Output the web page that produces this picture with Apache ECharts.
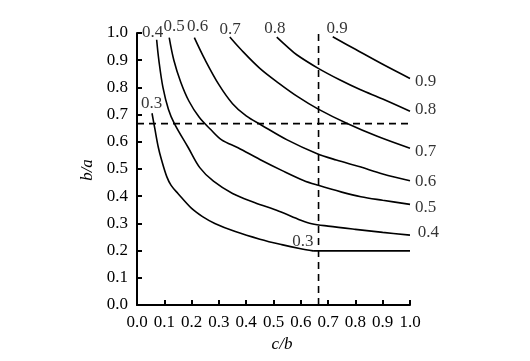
<!DOCTYPE html>
<html><head><meta charset="utf-8">
<script src="https://cdn.jsdelivr.net/npm/echarts@6/dist/echarts.min.js"></script>
<style>html,body{margin:0;padding:0;background:#fff}#c{width:530px;height:361px}</style>
</head><body><div id="c"></div>
<script>
// Contour curves: [c/b, b/a]
const curve03 = [[0.055,0.705],[0.065,0.65],[0.078,0.58],[0.09,0.533],[0.109,0.472],[0.125,0.44],[0.15,0.41],[0.2,0.355],[0.24,0.325],[0.285,0.30],[0.36,0.27],[0.45,0.242],[0.53,0.222],[0.60,0.207],[0.645,0.199]];
const curve03flat = [[0.645,0.199],[1.0,0.199]];
const curve04 = [[0.072,0.975],[0.08,0.9],[0.095,0.8],[0.115,0.72],[0.137,0.667],[0.187,0.58],[0.23,0.505],[0.28,0.455],[0.35,0.41],[0.43,0.377],[0.52,0.345],[0.6,0.312],[0.64,0.299],[0.7,0.29],[0.8,0.278],[0.9,0.267],[1.0,0.257]];
const curve05 = [[0.118,0.983],[0.135,0.9],[0.16,0.82],[0.19,0.75],[0.228,0.69],[0.27,0.645],[0.31,0.607],[0.37,0.578],[0.45,0.535],[0.53,0.495],[0.61,0.458],[0.664,0.44],[0.75,0.415],[0.82,0.398],[0.9,0.385],[1.0,0.37]];
const curve06 = [[0.21,0.983],[0.25,0.9],[0.3,0.81],[0.35,0.74],[0.40,0.695],[0.455,0.662],[0.55,0.607],[0.658,0.557],[0.73,0.533],[0.817,0.508],[0.9,0.482],[1.0,0.457]];
const curve07 = [[0.34,0.985],[0.38,0.94],[0.45,0.87],[0.52,0.815],[0.59,0.765],[0.664,0.72],[0.77,0.667],[0.88,0.62],[1.0,0.576]];
const curve08 = [[0.512,0.985],[0.55,0.95],[0.585,0.92],[0.664,0.87],[0.744,0.827],[0.817,0.792],[0.9,0.757],[1.0,0.712]];
const curve09 = [[0.717,0.986],[0.8,0.94],[0.9,0.885],[1.0,0.833]];
// Reference dashed lines
const refX = 0.665;
const refY = 0.667;
// Contour labels: text and position (data coords)
const labelTexts = ['0.4','0.5','0.6','0.7','0.8','0.9','0.9','0.8','0.7','0.6','0.5','0.4','0.3','0.3'];
const labelX = [0.057,0.136,0.222,0.341,0.505,0.733,1.057,1.057,1.057,1.057,1.057,1.067,0.054,0.608];
const labelY = [1.0,1.022,1.022,1.014,1.015,1.015,0.821,0.717,0.564,0.453,0.359,0.266,0.742,0.234];
// Axis ticks
const tickMin = 0, tickMax = 1, tickStep = 0.1;

const font = 'Liberation Serif';
const chart = echarts.init(document.getElementById('c'));
const lineSeries = (data) => ({
  type:'line', data, symbol:'none', smooth:0.35, clip:false, silent:true,
  lineStyle:{color:'#000', width:1.6}
});
const axisCommon = {
  type:'value', min:tickMin, max:tickMax, interval:tickStep,
  axisLine:{show:true, onZero:false, lineStyle:{color:'#000', width:2}},
  axisTick:{show:true, inside:true, length:5, lineStyle:{color:'#000', width:2}},
  splitLine:{show:false},
  axisLabel:{color:'#000', fontFamily:font, fontSize:17, margin:9, formatter:v=>v.toFixed(1)}
};
chart.setOption({
  animation:false,
  backgroundColor:'#fff',
  grid:{left:137, right:120, top:33, bottom:56, containLabel:false},
  xAxis:Object.assign({}, axisCommon),
  yAxis:Object.assign({}, axisCommon),
  series:[
    lineSeries(curve03),
    Object.assign(lineSeries(curve03flat), {smooth:false}),
    lineSeries(curve04), lineSeries(curve05), lineSeries(curve06),
    lineSeries(curve07), lineSeries(curve08), lineSeries(curve09),
    {type:'line', data:[[refX,0],[refX,1]], symbol:'none', clip:false, silent:true,
     lineStyle:{color:'#000', width:1.6, type:[7,5]}},
    {type:'line', data:[[0,refY],[1.017,refY]], symbol:'none', clip:false, silent:true,
     lineStyle:{color:'#000', width:1.6, type:[7,5]}},
    {type:'scatter', symbolSize:0, clip:false, silent:true,
     data:labelTexts.map((t,i)=>({name:t, value:[labelX[i], labelY[i]]})),
     label:{show:true, position:'inside', formatter:'{b}', color:'#000', fontFamily:font, fontSize:17,
            align:'center', verticalAlign:'middle'}}
  ],
  graphic:[
    {type:'text', x:282, y:345, style:{text:'c/b', font:'italic 17px "Liberation Serif"', fill:'#000', textAlign:'center', textVerticalAlign:'middle'}},
    {type:'text', x:88, y:170, rotation:Math.PI/2, style:{text:'b/a', font:'italic 17px "Liberation Serif"', fill:'#000', textAlign:'center', textVerticalAlign:'middle'}}
  ]
});
</script></body></html>
